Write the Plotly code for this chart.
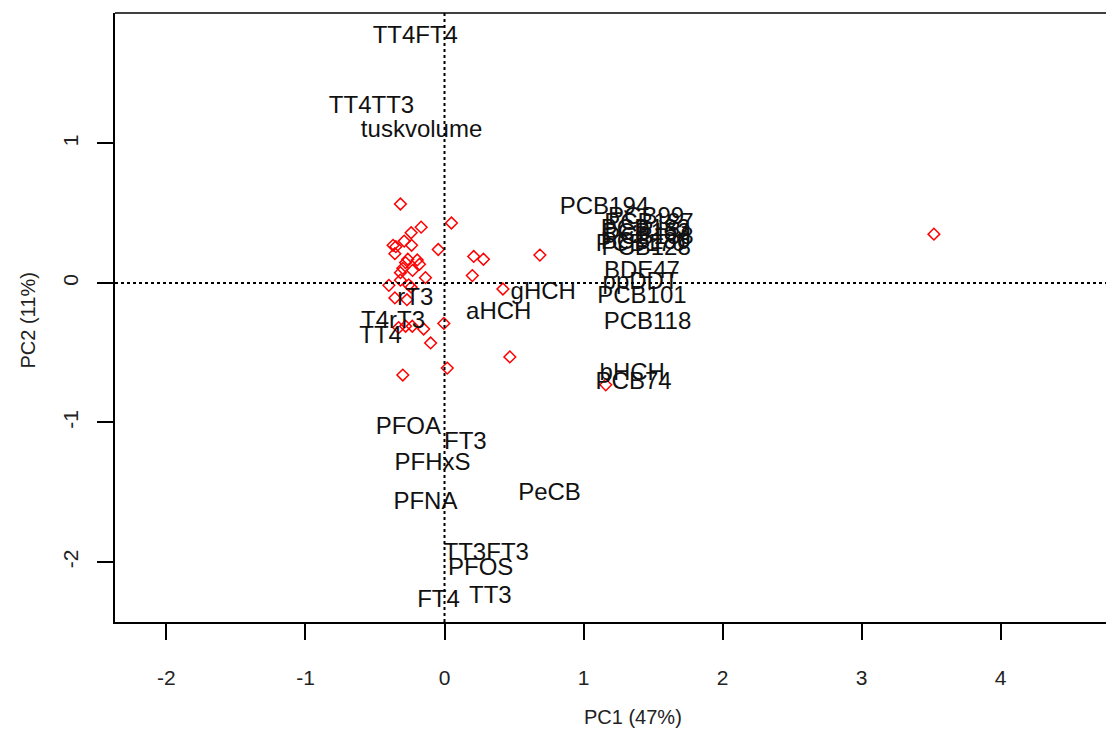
import plotly.graph_objects as go

# Sample scores (red open diamonds)
pc1_scores = [-0.317, 0.05, -0.168, -0.24, -0.29, -0.37, -0.35, -0.237, -0.357, -0.045,
              0.21, 0.28, 0.686, -0.264, -0.196, -0.18, -0.28, -0.30, -0.317, -0.23,
              -0.137, 0.20, -0.317, -0.40, -0.257, -0.24, 0.42, -0.357, -0.27, -0.005,
              -0.232, -0.15, -0.28, -0.10, 0.47, 0.02, -0.30, -0.33, 3.52, 1.16]
pc2_scores = [0.566, 0.43, 0.40, 0.36, 0.30, 0.27, 0.26, 0.27, 0.21, 0.24,
              0.19, 0.17, 0.20, 0.17, 0.165, 0.134, 0.146, 0.105, 0.074, 0.09,
              0.038, 0.053, 0.02, -0.017, -0.014, -0.03, -0.043, -0.107, -0.12, -0.29,
              -0.31, -0.33, -0.31, -0.43, -0.53, -0.61, -0.66, -0.32, 0.35, -0.73]

# Variable loadings (text labels)
var_names = ["TT4FT4", "TT4TT3", "tuskvolume", "PCB194",
             "PCB99", "PCB187", "PCB183", "PCB153", "PCB138", "PCB180", "PCB170", "PCB128",
             "BDE47", "ppDDT", "PCB101", "PCB118", "bHCH", "PCB74",
             "gHCH", "aHCH", "rT3", "T4rT3", "TT4",
             "PFOA", "FT3", "PFHxS", "PFNA", "PeCB", "TT3FT3", "PFOS", "FT4", "TT3"]
var_pc1 = [-0.21, -0.525, -0.165, 1.15,
           1.45, 1.47, 1.446, 1.45, 1.47, 1.446, 1.41, 1.45,
           1.42, 1.41, 1.42, 1.46, 1.35, 1.36,
           0.71, 0.39, -0.21, -0.37, -0.46,
           -0.26, 0.15, -0.086, -0.137, 0.755, 0.30, 0.26, -0.043, 0.33]
var_pc2 = [1.76, 1.26, 1.09, 0.54,
           0.466, 0.42, 0.38, 0.35, 0.32, 0.29, 0.27, 0.24,
           0.08, 0.0, -0.10, -0.29, -0.65, -0.72,
           -0.07, -0.215, -0.115, -0.28, -0.39,
           -1.04, -1.15, -1.30, -1.58, -1.51, -1.94, -2.05, -2.28, -2.25]

x_ticks = [-2, -1, 0, 1, 2, 3, 4]
y_ticks = [-2, -1, 0, 1]

FONT = "Liberation Sans, Arial"

fig = go.Figure()
fig.add_trace(go.Scatter(
    x=pc1_scores, y=pc2_scores, mode="markers",
    marker=dict(symbol="diamond-open", size=9, color="#ff0000", line=dict(width=1.5, color="#ff0000")),
    showlegend=False, hoverinfo="skip"))
fig.add_trace(go.Scatter(
    x=var_pc1, y=var_pc2, mode="text", text=var_names, textposition="middle center",
    textfont=dict(family=FONT, size=24, color="#111111"),
    showlegend=False, hoverinfo="skip"))

# dotted zero lines
fig.add_shape(type="line", xref="x", yref="paper", x0=0, x1=0, y0=0, y1=1,
              line=dict(color="black", width=2, dash="3px,3px"))
fig.add_shape(type="line", xref="paper", yref="y", x0=0, x1=1, y0=0, y1=0,
              line=dict(color="black", width=2, dash="3px,3px"))
# top border
fig.add_shape(type="line", xref="paper", yref="paper", x0=0, x1=1, y0=1, y1=1,
              line=dict(color="black", width=1.5))

fig.update_xaxes(range=[-2.37, 4.88], tickvals=x_ticks, ticktext=[str(v) for v in x_ticks],
                 showgrid=False, zeroline=False, showline=True, linecolor="black", linewidth=1.5,
                 ticks="outside", ticklen=16, tickwidth=1.5, tickcolor="black",
                 tickfont=dict(family=FONT, size=21, color="#222"),
                 ticklabelstandoff=20)
fig.update_yaxes(range=[-2.43, 1.935], tickvals=y_ticks, ticktext=[str(v) for v in y_ticks],
                 showgrid=False, zeroline=False, showline=True, linecolor="black", linewidth=1.5,
                 ticks="outside", ticklen=16, tickwidth=1.5, tickcolor="black", tickangle=-90,
                 tickfont=dict(family=FONT, size=21, color="#222"),
                 ticklabelstandoff=11)

fig.add_annotation(text="PC1 (47%)", xref="paper", yref="paper", x=0, y=0,
                   xshift=518, yshift=-95, showarrow=False, xanchor="center", yanchor="middle",
                   font=dict(family=FONT, size=20, color="#222"))
fig.add_annotation(text="PC2 (11%)", xref="paper", yref="paper", x=0, y=0.5,
                   xshift=-88, yshift=-3, showarrow=False, textangle=-90, xanchor="center", yanchor="middle",
                   font=dict(family=FONT, size=20, color="#222"))

# page body has an 8px margin; plot area extends to the right window edge
fig.update_layout(width=1115, height=725, margin=dict(l=107, r=0, t=5, b=111),
                  plot_bgcolor="white", paper_bgcolor="white")
fig.write_html("out.html")
